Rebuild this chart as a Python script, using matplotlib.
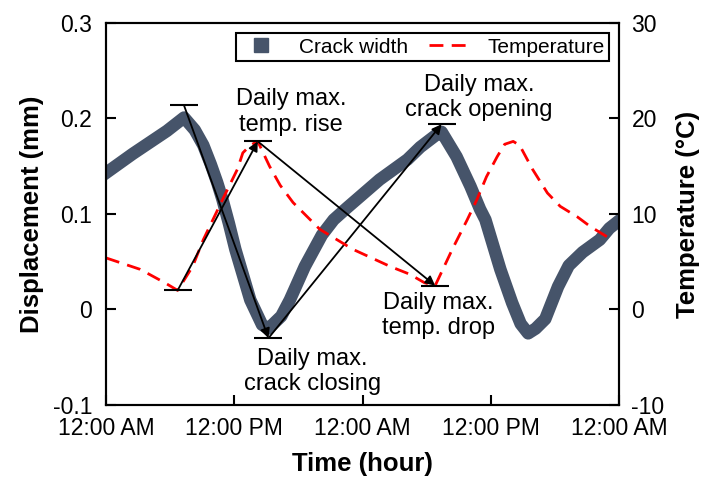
import numpy as np
import matplotlib
matplotlib.use('Agg')
import matplotlib.pyplot as plt
from matplotlib.lines import Line2D

plt.rcParams['font.family'] = ['Liberation Sans', 'DejaVu Sans']
plt.rcParams['axes.unicode_minus'] = False

# Crack width (mm), time in hours from midnight
crack_t = [0, 2.5, 4.1, 5.7, 7.3, 8.3, 9.1, 9.8, 10.4, 10.9, 11.5, 12.1, 13.5, 14.6, 15.2,
           16.4, 17.2, 18.6, 20.2, 21.3, 22.5, 25.6, 28.2, 29.4, 30.8, 31.4, 32.8, 34.1,
           35.0, 35.5, 36.9, 38.0, 38.8, 39.5, 40.2, 41.1, 42.3, 43.3, 44.6, 46.2,
           47.1, 48.0]
crack_w = [0.143, 0.163, 0.175, 0.187, 0.201, 0.188, 0.172, 0.152, 0.133, 0.115, 0.090,
           0.063, 0.010, -0.016, -0.020, -0.007, 0.010, 0.045, 0.078, 0.094, 0.106,
           0.136, 0.157, 0.170, 0.182, 0.186, 0.160, 0.129, 0.105, 0.094, 0.042, 0.007,
           -0.015, -0.025, -0.020, -0.010, 0.024, 0.046, 0.060, 0.073, 0.085, 0.093]

# Temperature (deg C)
temp_t = [0, 3.2, 5.5, 6.7, 8.1, 9.1, 10.0, 10.9, 12.3, 12.8, 13.5, 14.2, 15.3, 16.3,
          17.5, 20.0, 23.1, 26.6, 28.4, 29.8, 30.8, 32.4, 33.8, 34.7, 35.6, 36.6, 37.3,
          38.1, 38.7, 39.9, 41.3, 42.5, 44.1, 45.3, 46.9]
temp_v = [5.4, 4.2, 2.8, 2.0, 4.5, 7.3, 9.4, 11.5, 14.7, 16.4, 17.2, 17.6, 15.0, 13.0,
          11.2, 8.4, 6.3, 4.5, 3.7, 2.8, 2.5, 6.3, 9.4, 11.5, 13.9, 16.0, 17.3, 17.6,
          17.2, 14.7, 12.2, 10.8, 9.7, 8.7, 7.6]

# marked extremes
crack_ext_t = [7.3, 15.2, 31.4]
crack_ext_v = [0.2136, -0.030, 0.194]
temp_ext_t = [6.7, 14.2, 30.8]
temp_ext_v = [2.0, 17.6, 2.5]

xticks = [0, 12, 24, 36, 48]
xticklabels = ['12:00 AM', '12:00 PM', '12:00 AM', '12:00 PM', '12:00 AM']

crack_color = '#46546a'

fig = plt.figure(figsize=(7.05, 4.86), dpi=100)
ax = fig.add_axes([0.1504, 0.1667, 0.878 - 0.1504, 0.9527 - 0.1667])
ax2 = ax.twinx()

ax.plot(crack_t, crack_w, color=crack_color, lw=9, solid_joinstyle='round')
ax2.plot(temp_t, temp_v, color='#ff0000', lw=2, dashes=(5, 3))

ax.set_xlim(0, 48)
ax.set_ylim(-0.1, 0.3)
ax2.set_ylim(-10, 30)
ax.set_xticks(xticks)
ax.set_xticklabels(xticklabels)
ax.set_yticks([-0.1, 0, 0.1, 0.2, 0.3])
ax.set_yticklabels(['-0.1', '0', '0.1', '0.2', '0.3'])
ax2.set_yticks([-10, 0, 10, 20, 30])
ax2.set_yticklabels(['-10', '0', '10', '20', '30'])

for a in (ax, ax2):
    for s in a.spines.values():
        s.set_linewidth(1.5)
ax.tick_params(axis='both', direction='in', length=7, width=1.5, labelsize=16.5)
ax.tick_params(axis='x', pad=9)
ax.tick_params(axis='y', pad=10)
ax2.tick_params(axis='y', direction='in', length=7, width=1.5, labelsize=16.5, pad=9)

ax.set_xlabel('Time (hour)', fontsize=18.5, fontweight='bold', labelpad=8)
ax.set_ylabel('Displacement (mm)', fontsize=18.5, fontweight='bold', labelpad=6)
ax2.set_ylabel('Temperature (°C)', fontsize=18.5, fontweight='bold', labelpad=8)

# arrows between extremes, with horizontal caps
arrow = dict(arrowstyle='-|>', color='black', lw=1.3, mutation_scale=14, shrinkA=0, shrinkB=0)
ax.annotate('', xy=(crack_ext_t[1], crack_ext_v[1]), xytext=(crack_ext_t[0], crack_ext_v[0]), arrowprops=arrow)
ax.annotate('', xy=(crack_ext_t[2], crack_ext_v[2]), xytext=(crack_ext_t[1], crack_ext_v[1]), arrowprops=arrow)
ax2.annotate('', xy=(temp_ext_t[1], temp_ext_v[1]), xytext=(temp_ext_t[0], temp_ext_v[0]), arrowprops=arrow)
ax2.annotate('', xy=(temp_ext_t[2], temp_ext_v[2]), xytext=(temp_ext_t[1], temp_ext_v[1]), arrowprops=arrow)
ax.plot(crack_ext_t, crack_ext_v, ls='none', marker='_', ms=20, mew=1.5, color='black')
ax2.plot(temp_ext_t, temp_ext_v, ls='none', marker='_', ms=20, mew=1.5, color='black')

fs = 17
ax.text(17.3, 0.207, 'Daily max.\ntemp. rise', fontsize=fs, ha='center', va='center')
ax.text(34.9, 0.222, 'Daily max.\ncrack opening', fontsize=fs, ha='center', va='center')
ax.text(19.3, -0.065, 'Daily max.\ncrack closing', fontsize=fs, ha='center', va='center')
ax.text(31.1, -0.006, 'Daily max.\ntemp. drop', fontsize=fs, ha='center', va='center')

handles = [Line2D([], [], ls='none', marker='s', ms=10, color=crack_color),
           Line2D([], [], color='#ff0000', lw=2, dashes=(5, 3))]
leg = ax2.legend(handles, ['Crack width', 'Temperature'], loc='upper right', ncol=2,
                 fontsize=15, frameon=True, fancybox=False, framealpha=1,
                 edgecolor='black', borderpad=0.2, handlelength=2.0, columnspacing=1.0,
                 handletextpad=0.8, borderaxespad=0.5)
leg.get_frame().set_linewidth(1.5)

fig.savefig('out.png', dpi=100)
